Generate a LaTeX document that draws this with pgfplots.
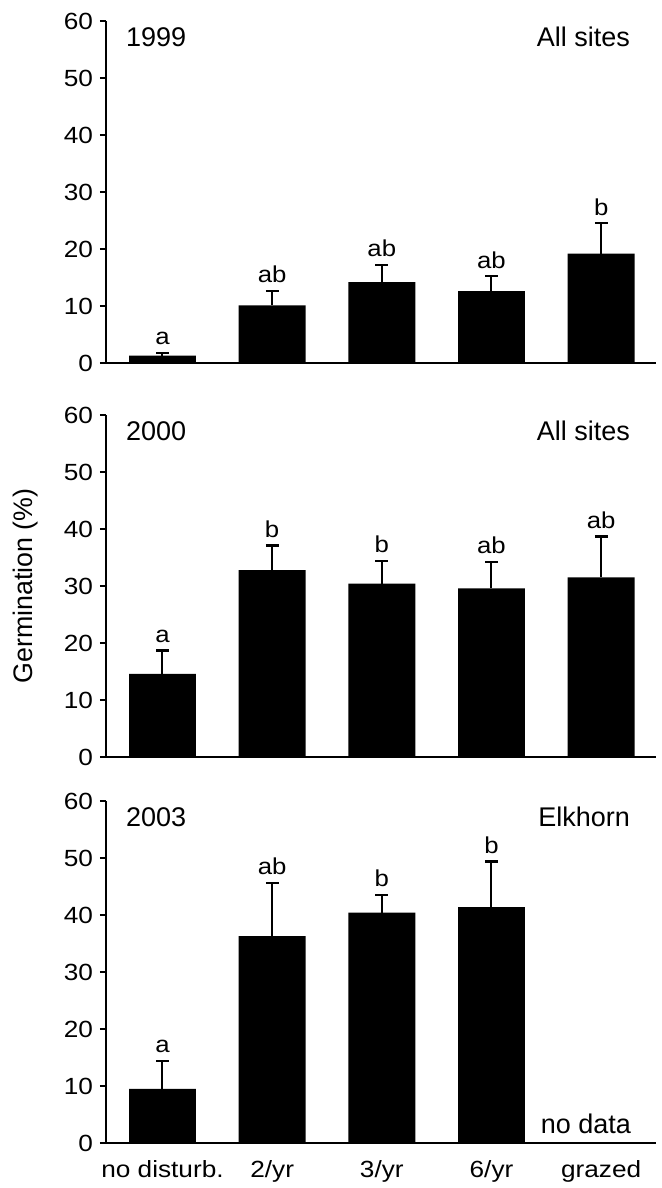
\documentclass[border=0pt]{standalone}
\usepackage{fontspec}
\setmainfont{Liberation Sans}
\newfontfamily\widefont[FakeStretch=1.12]{Liberation Sans}
\usepackage{pgfplots}
\pgfplotsset{compat=1.18}

\pgfplotsset{
  panel/.style={
    scale only axis, width=275pt, height=171pt,
    anchor=south west,
    xmin=-0.515, xmax=4.5, ymin=0, ymax=60,
    axis lines=left,
    axis line style={line width=0.9pt, -},
    ytick={0,10,...,60},
    xtick=\empty,
    tick align=outside,
    major tick length=3pt,
    tick style={line width=0.9pt, black},
    x tick style={draw=none},
    tick label style={font=\widefont\fontsize{11.7}{14}\selectfont},
    xticklabel style={yshift=-2pt},
    /pgf/number format/assume math mode=true,
    clip=false,
  },
  bars/.style={
    ybar, bar width=0.61, bar shift=0pt, fill=black, draw=none,
    error bars/.cd, y dir=plus, y explicit,
    error bar style={line width=1pt, black},
    error mark options={rotate=90, mark size=3.2pt, line width=1.1pt, black},
  },
  letters/.style={
    draw=none, mark=none, nodes near coords, point meta=explicit symbolic,
    every node near coord/.append style={inner sep=0pt, yshift=3.8pt,
      font=\widefont\fontsize{11.5}{13}\selectfont},
  },
}

\begin{document}
\begin{tikzpicture}
\useasboundingbox (-53pt,-22.5pt) rectangle (277.5pt,571.5pt);

% 1999
\begin{axis}[panel, at={(0pt,390pt)}]
  \addplot[bars] coordinates {
    (0,1.3) +- (0,0.5)
    (1,10.1) +- (0,2.5)
    (2,14.2) +- (0,3.0)
    (3,12.6) +- (0,2.6)
    (4,19.2) +- (0,5.3)
  };
  \addplot[letters] coordinates {
    (0,1.8) [a] (1,12.6) [ab] (2,17.2) [ab] (3,15.2) [ab] (4,24.5) [b]
  };
  \node[anchor=west, xshift=6.5pt, yshift=-8pt, font=\fontsize{13.5}{16}\selectfont] at (rel axis cs:0,1) {1999};
  \node[anchor=east, xshift=-9.5pt, yshift=-8pt, font=\fontsize{13.5}{16}\selectfont] at (rel axis cs:1,1) {All sites};
\end{axis}

% 2000
\begin{axis}[panel, at={(0pt,193pt)}]
  \addplot[bars] coordinates {
    (0,14.6) +- (0,4.1)
    (1,32.8) +- (0,4.3)
    (2,30.4) +- (0,4.0)
    (3,29.6) +- (0,4.6)
    (4,31.5) +- (0,7.2)
  };
  \addplot[letters] coordinates {
    (0,18.7) [a] (1,37.1) [b] (2,34.4) [b] (3,34.2) [ab] (4,38.7) [ab]
  };
  \node[anchor=west, xshift=6.5pt, yshift=-8pt, font=\fontsize{13.5}{16}\selectfont] at (rel axis cs:0,1) {2000};
  \node[anchor=east, xshift=-9.5pt, yshift=-8pt, font=\fontsize{13.5}{16}\selectfont] at (rel axis cs:1,1) {All sites};
  \node[rotate=90, yshift=40pt, font=\fontsize{13.4}{16}\selectfont] at (rel axis cs:0,0.5) {Germination (\%)};
\end{axis}

% 2003
\begin{axis}[panel, at={(0pt,0pt)},
    xtick={0,1,2,3,4},
    xticklabels={no disturb., 2/yr, 3/yr, 6/yr, grazed}]
  \addplot[bars] coordinates {
    (0,9.5) +- (0,4.9)
    (1,36.3) +- (0,9.3)
    (2,40.4) +- (0,3.1)
    (3,41.4) +- (0,8.0)
  };
  \addplot[letters] coordinates {
    (0,14.4) [a] (1,45.6) [ab] (2,43.5) [b] (3,49.4) [b]
  };
  \node[anchor=west, xshift=6.5pt, yshift=-8pt, font=\fontsize{13.5}{16}\selectfont] at (rel axis cs:0,1) {2003};
  \node[anchor=east, xshift=-9.5pt, yshift=-8pt, font=\fontsize{13.5}{16}\selectfont] at (rel axis cs:1,1) {Elkhorn};
  \node[anchor=base east, xshift=-9pt, yshift=5pt, font=\fontsize{13.5}{16}\selectfont] at (rel axis cs:1,0) {no data};
\end{axis}
\end{tikzpicture}
\end{document}
